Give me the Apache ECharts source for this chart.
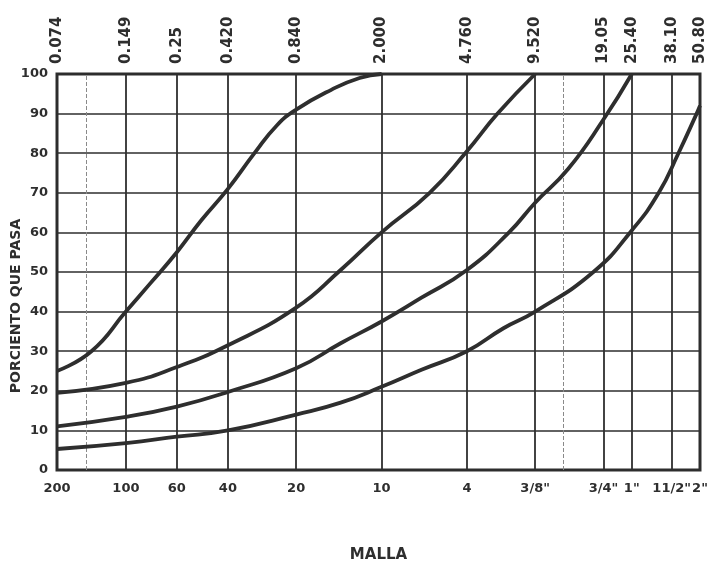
<!DOCTYPE html>
<html>
<head>
<meta charset="utf-8">
<script src="https://cdn.jsdelivr.net/npm/echarts@6/dist/echarts.min.js"></script>
<style>
html,body{margin:0;padding:0;background:#fff;}
#c{width:712px;height:568px;}
</style>
</head>
<body>
<div id="c"></div>
<script>
// Sieve openings (mm) where the vertical grid lines and labels sit
const sizesMM = [0.074, 0.149, 0.25, 0.42, 0.84, 2.0, 4.76, 9.52, 19.05, 25.4, 38.1, 50.8];
const mmLabels = ['0.074', '0.149', '0.25', '0.420', '0.840', '2.000', '4.760', '9.520', '19.05', '25.40', '38.10', '50.80'];
const meshLabels = ['200', '100', '60', '40', '20', '10', '4', '3/8"', '3/4"', '1"', '11/2"', '2"'];
const faintLines = [0.105, 12.7];

// Grading curves: opening (mm) and percent passing
const curveAx = [0.074, 0.105, 0.149, 0.19, 0.25, 0.32, 0.42, 0.55, 0.69, 0.84, 1.2, 1.6, 2.0];
const curveAy = [25, 30, 40, 47, 55, 63, 71, 80, 87, 91, 96, 99, 100];

const curveBx = [0.074, 0.149, 0.25, 0.42, 0.84, 1.32, 2.0, 3.26, 4.76, 6.5, 9.52];
const curveBy = [19.5, 22, 26, 31.5, 41, 50.5, 60, 70, 80.5, 90, 100];

const curveCx = [0.074, 0.149, 0.25, 0.42, 0.84, 1.32, 2.0, 3.0, 4.76, 7.3, 9.52, 13.3, 19.05, 25.4];
const curveCy = [11, 13.4, 16, 19.7, 25.7, 32, 37.5, 43.5, 50.5, 60, 67.5, 76, 88.5, 100];

const curveDx = [0.074, 0.149, 0.25, 0.42, 0.84, 1.32, 2.0, 3.0, 4.76, 6.9, 9.52, 17.2, 25.4, 33.4, 40.8, 49.1, 50.8];
const curveDy = [5.3, 6.8, 8.4, 10, 14, 17, 21, 25.3, 30, 35.8, 40, 50, 60.5, 70, 80, 90, 92];

function zip(xs, ys) { return xs.map((x, i) => [x, ys[i]]); }
function labelFor(labels) {
  return function (v) {
    for (let i = 0; i < sizesMM.length; i++) {
      if (Math.abs(Math.log10(sizesMM[i]) - Math.log10(v)) < 1e-3) return labels[i];
    }
    return '';
  };
}

const ink = '#2e2e2e';
const font = 'DejaVu Sans';

const lineSeries = (name, xs, ys) => ({
  name: name,
  type: 'line',
  xAxisIndex: 0,
  yAxisIndex: 0,
  data: zip(xs, ys),
  showSymbol: false,
  smooth: 0.5,
  lineStyle: { color: ink, width: 3.8 },
  z: 5
});

const series = [
  lineSeries('A', curveAx, curveAy),
  lineSeries('B', curveBx, curveBy),
  lineSeries('C', curveCx, curveCy),
  lineSeries('D', curveDx, curveDy)
];
series[0].markLine = {
  silent: true,
  symbol: ['none', 'none'],
  label: { show: false },
  lineStyle: { color: '#8a8a8a', width: 1, type: 'dashed' },
  data: faintLines.map(v => ({ xAxis: v }))
};

const chart = echarts.init(document.getElementById('c'));
chart.setOption({
  backgroundColor: '#ffffff',
  animation: false,
  grid: {
    left: 57, right: 12, top: 74, bottom: 98,
    containLabel: false, outerBoundsMode: 'none',
    show: true, borderColor: ink, borderWidth: 3, backgroundColor: 'transparent'
  },
  xAxis: [
    {
      type: 'log', logBase: 10, min: 0.074, max: 50.8, position: 'bottom',
      axisLine: { show: false },
      axisTick: { show: false, customValues: sizesMM },
      axisLabel: {
        customValues: sizesMM, formatter: labelFor(meshLabels), margin: 12,
        hideOverlap: false,
        color: ink, fontFamily: font, fontWeight: 'bold', fontSize: 13
      },
      splitLine: { show: true, lineStyle: { color: ink, width: 1.8 } },
      name: 'MALLA', nameLocation: 'middle', nameGap: 78, nameMoveOverlap: false,
      nameTextStyle: { color: ink, fontFamily: font, fontWeight: 'bold', fontSize: 15 }
    },
    {
      type: 'log', logBase: 10, min: 0.074, max: 50.8, position: 'top',
      axisLine: { show: false },
      axisTick: { show: false, customValues: sizesMM },
      axisLabel: {
        customValues: sizesMM, formatter: labelFor(mmLabels), rotate: -90, margin: 10,
        hideOverlap: false,
        color: ink, fontFamily: font, fontWeight: 'bold', fontSize: 15
      },
      splitLine: { show: false }
    }
  ],
  yAxis: {
    type: 'value', min: 0, max: 100, interval: 10,
    axisLine: { show: false },
    axisTick: { show: false },
    axisLabel: { margin: 9, color: ink, fontFamily: font, fontWeight: 'bold', fontSize: 13 },
    splitLine: { show: true, lineStyle: { color: ink, width: 1.6 } },
    name: 'PORCIENTO QUE PASA', nameLocation: 'middle', nameGap: 34, nameMoveOverlap: false,
    nameTextStyle: { color: ink, fontFamily: font, fontWeight: 'bold', fontSize: 14, padding: [0, 68, 0, 0] }
  },
  series: series
});
</script>
</body>
</html>
